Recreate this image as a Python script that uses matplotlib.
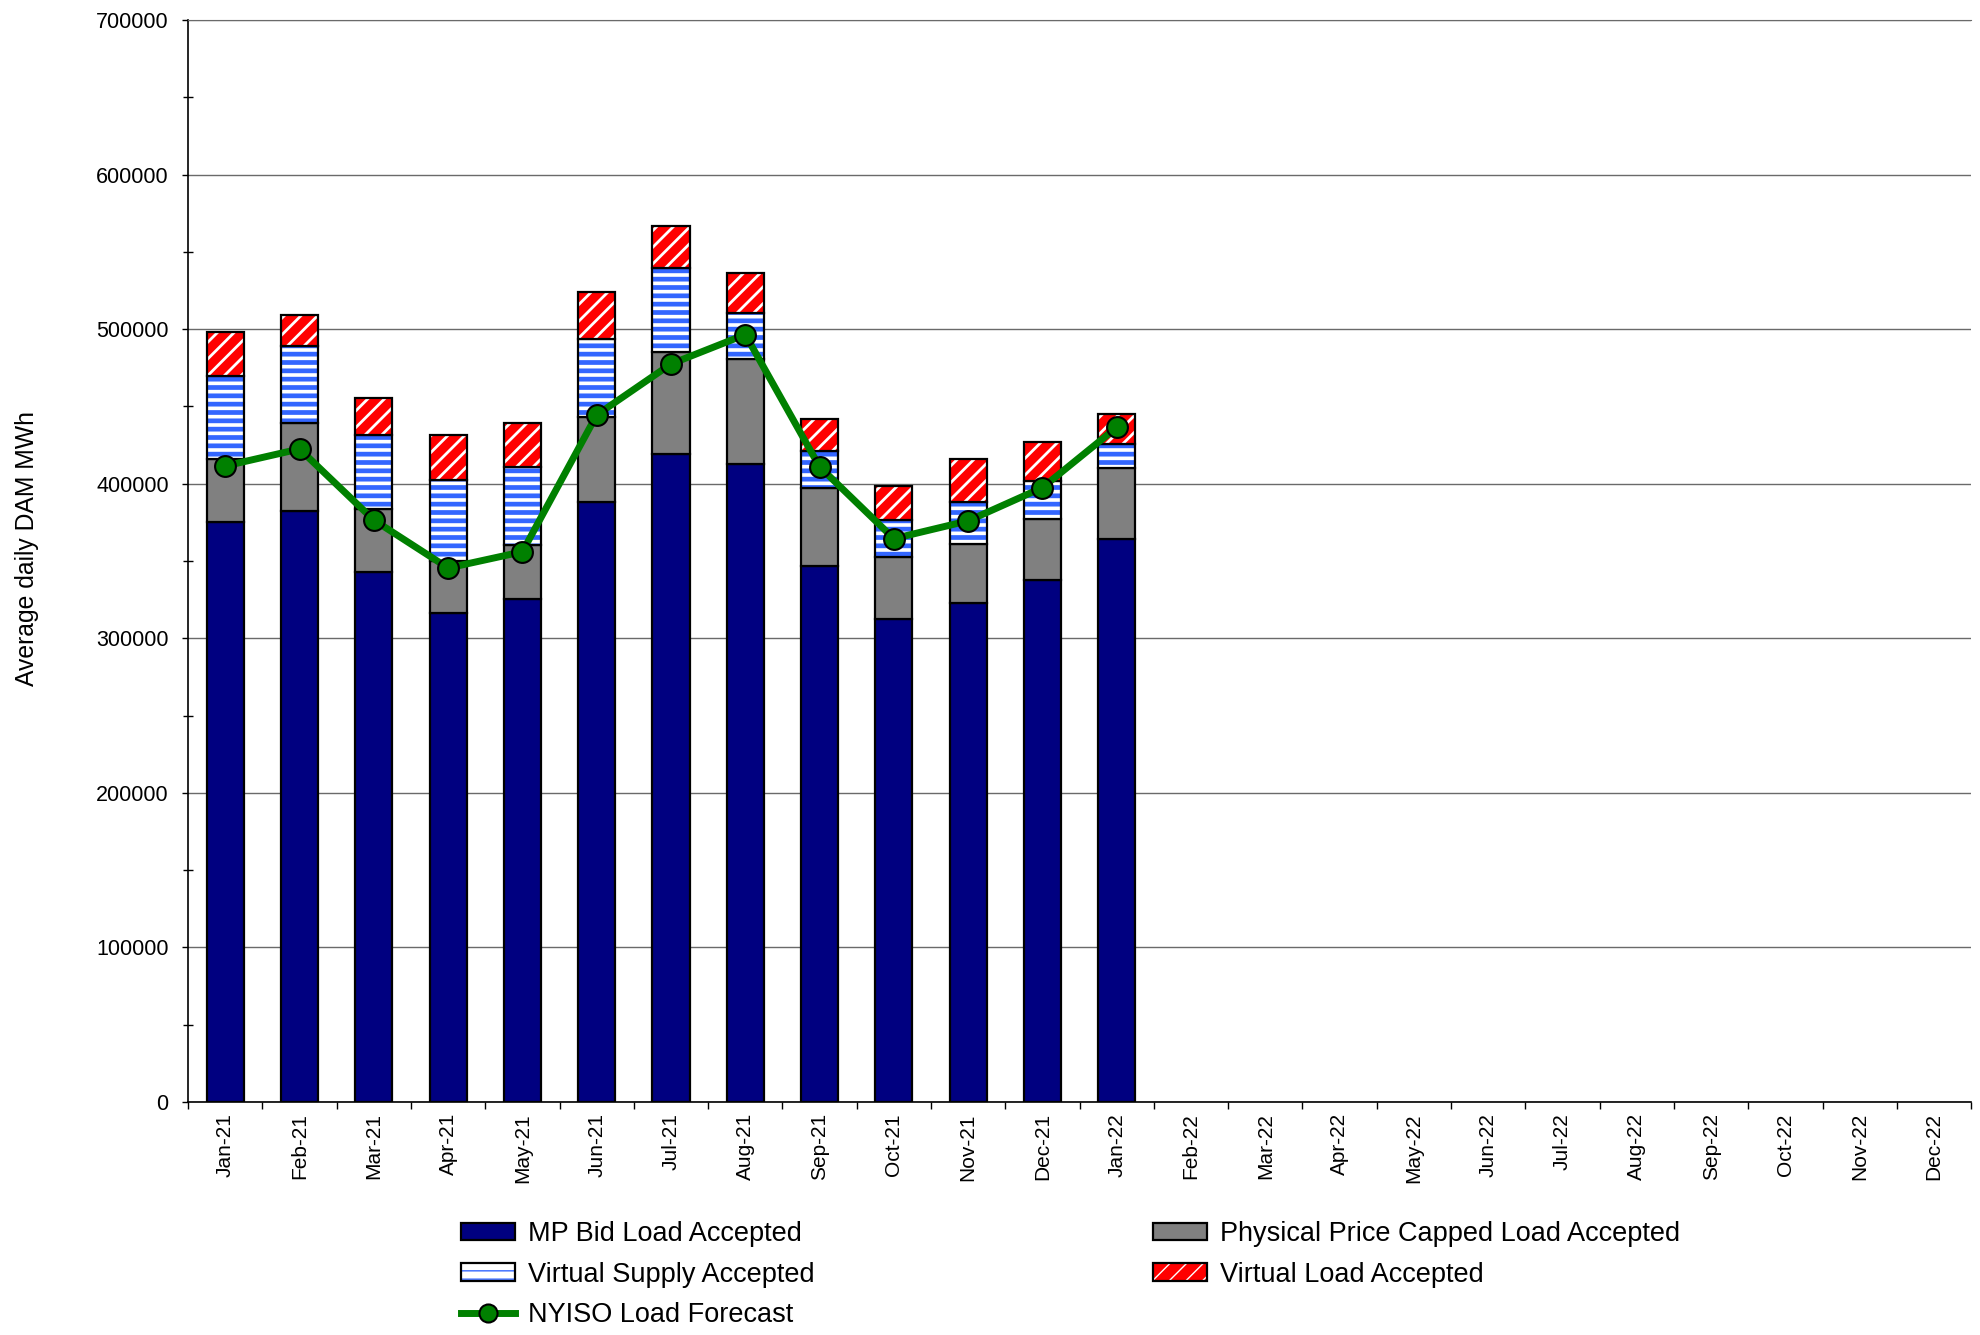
import matplotlib
matplotlib.use("Agg")
import matplotlib.pyplot as plt
import matplotlib.patches as mpatches
from matplotlib.lines import Line2D
from matplotlib.ticker import MultipleLocator, FixedLocator, NullFormatter
import numpy as np

plt.rcParams["font.family"] = ["Liberation Sans", "DejaVu Sans"]

# 月份标签
months = ["Jan-21", "Feb-21", "Mar-21", "Apr-21", "May-21", "Jun-21", "Jul-21",
          "Aug-21", "Sep-21", "Oct-21", "Nov-21", "Dec-21", "Jan-22", "Feb-22",
          "Mar-22", "Apr-22", "May-22", "Jun-22", "Jul-22", "Aug-22", "Sep-22",
          "Oct-22", "Nov-22", "Dec-22"]

# 各分量（MWh），只有前13个月有数据
mp_bid = [375000, 382500, 343000, 316500, 325500, 388500, 419500, 413000,
          346500, 312500, 323000, 337500, 364500]
phys_capped = [41000, 56500, 40500, 33500, 35000, 55000, 66000, 67500,
               51000, 40000, 38000, 40000, 46000]
virt_supply = [54000, 50000, 48000, 52500, 50500, 50000, 54000, 30000,
               23500, 24000, 27000, 24500, 15500]
virt_load = [28000, 20000, 24000, 29000, 28500, 30500, 27500, 26000,
             21000, 22000, 28000, 25000, 19000]
forecast = [411500, 422500, 376500, 345500, 356000, 444500, 477500, 496500,
            411000, 364500, 376000, 397500, 436500]

navy = "#000080"
gray = "#808080"
blue = "#3366ff"
red = "#ff0000"
green = "#008000"

n = len(mp_bid)
x = np.arange(n)
w = 0.5
b1 = np.array(mp_bid)
b2 = b1 + np.array(phys_capped)
b3 = b2 + np.array(virt_supply)

fig = plt.figure(figsize=(19.8, 13.35), dpi=100)
ax = fig.add_axes([0.095, 0.1745, 0.9005, 0.8105])

VS_HLW = 3.4
VL_HLW = 2.0


def set_hlw(container, lw):
    for p in container:
        if hasattr(p, "set_hatch_linewidth"):
            p.set_hatch_linewidth(lw)


edge_lw = 1.6
ax.bar(x, mp_bid, w, color=navy, edgecolor="black", linewidth=edge_lw, zorder=2)
ax.bar(x, phys_capped, w, bottom=b1, color=gray, edgecolor="black",
       linewidth=edge_lw, zorder=2)

with plt.rc_context({"hatch.linewidth": VS_HLW}):
    vs = ax.bar(x, virt_supply, w, bottom=b2, color="white", edgecolor=blue,
                hatch="--", linewidth=0, zorder=2)
set_hlw(vs, VS_HLW)
ax.bar(x, virt_supply, w, bottom=b2, fill=False, edgecolor="black",
       linewidth=edge_lw, zorder=2)

with plt.rc_context({"hatch.linewidth": VL_HLW}):
    vl = ax.bar(x, virt_load, w, bottom=b3, color=red, edgecolor="white",
                hatch="//", linewidth=0, zorder=2)
set_hlw(vl, VL_HLW)
ax.bar(x, virt_load, w, bottom=b3, fill=False, edgecolor="black",
       linewidth=edge_lw, zorder=2)

ax.plot(x, forecast, color=green, lw=5, marker="o", markersize=15,
        markerfacecolor=green, markeredgecolor="black", markeredgewidth=1.5,
        zorder=4)

# 坐标轴
ax.set_xlim(-0.5, len(months) - 0.5)
ax.set_ylim(0, 700000)
ax.yaxis.set_major_locator(MultipleLocator(100000))
ax.yaxis.set_minor_locator(MultipleLocator(50000))
ax.yaxis.grid(True, which="major", color="#6a6a6a", lw=1.0, zorder=0)
ax.set_axisbelow(True)
ax.tick_params(axis="y", which="major", direction="out", length=4, width=1,
               labelsize=15.5, pad=10)
ax.tick_params(axis="y", which="minor", direction="inout", length=7, width=1)

ax.xaxis.set_major_locator(FixedLocator(np.arange(-0.5, len(months), 1.0)))
ax.xaxis.set_major_formatter(NullFormatter())
ax.set_xticks(np.arange(len(months)), labels=months, minor=True)
ax.tick_params(axis="x", which="major", direction="out", length=5, width=1)
ax.tick_params(axis="x", which="minor", length=0, labelsize=15,
               labelrotation=90, pad=8)

ax.spines["right"].set_visible(False)
ax.spines["top"].set_color("#6a6a6a")
ax.spines["left"].set_linewidth(1.2)
ax.spines["bottom"].set_linewidth(1.2)

fig.text(0.0136, 0.589, "Average daily DAM MWh", rotation=90, fontsize=17.8,
         ha="center", va="center")

# 图例
h_mp = mpatches.Patch(facecolor=navy, edgecolor="black", lw=edge_lw)
h_ph = mpatches.Patch(facecolor=gray, edgecolor="black", lw=edge_lw)
with plt.rc_context({"hatch.linewidth": 3.0}):
    h_vs_fill = mpatches.Patch(facecolor="white", edgecolor=blue, hatch="--", lw=0)
if hasattr(h_vs_fill, "set_hatch_linewidth"):
    h_vs_fill.set_hatch_linewidth(3.0)
h_vs = (h_vs_fill, mpatches.Patch(fill=False, edgecolor="black", lw=edge_lw))
with plt.rc_context({"hatch.linewidth": VL_HLW}):
    h_vl_fill = mpatches.Patch(facecolor=red, edgecolor="white", hatch="//", lw=0)
if hasattr(h_vl_fill, "set_hatch_linewidth"):
    h_vl_fill.set_hatch_linewidth(VL_HLW)
h_vl = (h_vl_fill, mpatches.Patch(fill=False, edgecolor="black", lw=edge_lw))
h_fc = Line2D([], [], color=green, lw=5, marker="o", markersize=13,
              markerfacecolor=green, markeredgecolor="black", markeredgewidth=1.5)

fig.legend([h_mp, h_vs, h_fc, h_ph, h_vl],
           ["MP Bid Load Accepted", "Virtual Supply Accepted", "NYISO Load Forecast",
            "Physical Price Capped Load Accepted", "Virtual Load Accepted"],
           loc="upper left", bbox_to_anchor=(0.2328, 0.0854), ncol=2,
           frameon=False, fontsize=19.5, borderpad=0, borderaxespad=0,
           handlelength=2.0, handleheight=0.6, handletextpad=0.48,
           labelspacing=0.54, columnspacing=12.5)

fig.savefig("out.png", dpi=100)
